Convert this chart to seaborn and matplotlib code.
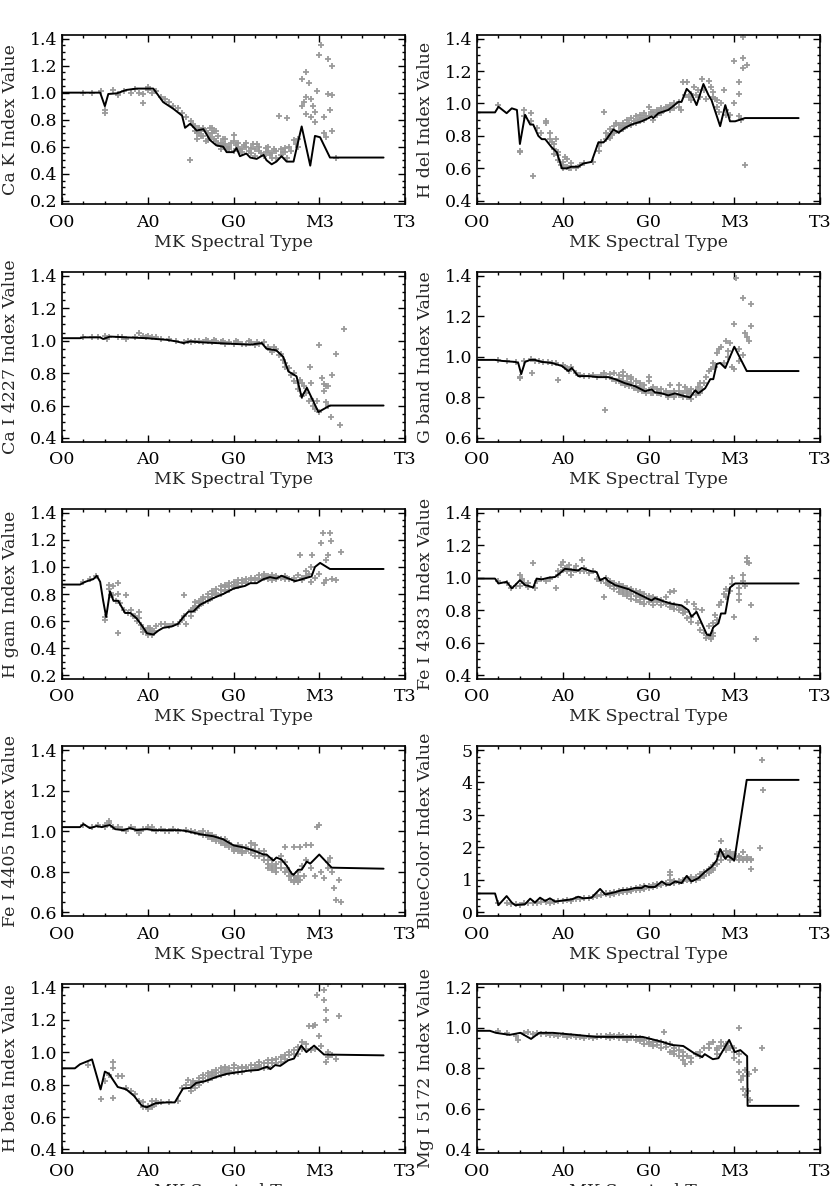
import matplotlib
matplotlib.use("Agg")
import matplotlib.pyplot as plt
from matplotlib.ticker import MultipleLocator, AutoMinorLocator, FormatStrFormatter
import seaborn as sns

# spectral type code on the x axis: 0 = O0, 20 = A0, 40 = G0, 60 = M3, 80 = T3
type_ticks = [0, 20, 40, 60, 80]
type_labels = ["O0", "A0", "G0", "M3", "T3"]

# ---- Ca K ----
cak_yticks = [0.2, 0.4, 0.6, 0.8, 1.0, 1.2, 1.4]
cak_curve = [(0, 1.0), (4.2, 1.0), (8.9, 1.0), (10, 0.9), (10.8, 0.99), (12.8, 0.995), (15, 1.02),
             (17.4, 1.03), (19.8, 1.03), (21.3, 1.03), (23.6, 0.93), (26, 0.88), (28, 0.83), (28.7, 0.74),
             (29.9, 0.77), (31.4, 0.72), (33, 0.73), (34.5, 0.65), (36, 0.61), (37.6, 0.60), (38.4, 0.56),
             (40, 0.56), (40.7, 0.59), (41.5, 0.53), (43, 0.55), (43.9, 0.52), (45.4, 0.51), (47, 0.54),
             (47.7, 0.50), (48.9, 0.47), (50, 0.49), (51.2, 0.53), (52.4, 0.49), (54, 0.49), (55.9, 0.75),
             (57.9, 0.46), (59, 0.68), (60.2, 0.67), (62.5, 0.52), (75, 0.52)]
cak_points = [(5, 1.0), (7, 1.0), (9, 1.01), (10, 0.87), (10, 0.85), (12, 1.02), (13, 0.99), (13, 0.98),
              (14.5, 1.01), (16, 1.0), (17, 1.03), (18, 1.0), (19, 0.99), (19, 0.92), (20, 1.02), (20, 1.04),
              (21, 1.0), (22, 1.01), (23, 0.97), (24, 0.95), (25, 0.93), (26, 0.9), (27, 0.89), (28, 0.85),
              (29, 0.82), (29.9, 0.5), (30, 0.79), (31, 0.75), (31, 0.72), (31.5, 0.7), (32, 0.74), (32, 0.7),
              (32.5, 0.68), (33, 0.74), (33, 0.68), (33.5, 0.72), (34, 0.7), (34, 0.65), (34.5, 0.74),
              (35, 0.74), (35, 0.7), (35.5, 0.66), (36, 0.72), (36, 0.64), (36.5, 0.68), (37, 0.63), (37, 0.58),
              (38, 0.62), (38, 0.66), (39, 0.6), (39, 0.58), (40, 0.64), (40, 0.57), (40, 0.69), (41, 0.6),
              (41, 0.63), (42, 0.58), (42, 0.56), (43, 0.6), (43, 0.63), (44, 0.55), (44, 0.59), (45, 0.58),
              (45, 0.53), (45.5, 0.62), (46, 0.57), (47, 0.53), (47.5, 0.56), (48, 0.6), (48, 0.57), (49, 0.52),
              (49, 0.55), (50, 0.57), (50, 0.52), (50.5, 0.83), (51, 0.58), (51, 0.54), (52, 0.56), (52.5, 0.52),
              (52.5, 0.81), (53, 0.6), (54, 0.65), (54.5, 0.62), (55, 0.66), (56, 0.9), (56, 1.1), (56.5, 0.93),
              (57, 0.97), (57, 0.84), (57.5, 1.07), (57, 1.15), (58, 0.95), (58, 0.82), (58.5, 0.9), (59, 0.86),
              (59, 0.78), (59.5, 1.01), (60, 1.28), (60.5, 1.35), (61, 0.82), (61, 0.7), (61.5, 0.67),
              (62, 1.25), (62, 0.99), (62.5, 0.87), (63, 1.2), (63, 0.98), (63, 0.72), (64, 0.52),
              (30.5, 0.76), (31.5, 0.66), (32.5, 0.72), (33.5, 0.64), (34.5, 0.67), (35.5, 0.72), (36.5, 0.62),
              (37.5, 0.66), (37.5, 0.61), (38.5, 0.59), (39.5, 0.63), (40.5, 0.61), (41.5, 0.57), (42.5, 0.61),
              (43.5, 0.57), (44.5, 0.62), (46, 0.6), (46.5, 0.55), (47.5, 0.59), (48.5, 0.54), (49.5, 0.58),
              (51.5, 0.56), (52, 0.59), (53.5, 0.57), (55, 0.6)]

# ---- H del ----
hdel_yticks = [0.4, 0.6, 0.8, 1.0, 1.2, 1.4]
hdel_curve = [(0, 0.945), (4.2, 0.945), (5, 0.98), (6.9, 0.94), (8.1, 0.97), (9.3, 0.96), (10, 0.75),
              (11.2, 0.93), (12.4, 0.87), (13.1, 0.87), (14.3, 0.80), (15.1, 0.78), (15.9, 0.78), (17.4, 0.73),
              (18.6, 0.70), (19.8, 0.60), (20.9, 0.60), (22, 0.61), (23.6, 0.61), (24.8, 0.63), (26.7, 0.64),
              (28.3, 0.76), (29.5, 0.76), (30.2, 0.78), (31.8, 0.84), (33, 0.82), (34.5, 0.85), (36, 0.87),
              (38.4, 0.89), (40, 0.91), (40.7, 0.92), (41.1, 0.91), (42.3, 0.94), (44.6, 0.96), (47, 1.01),
              (47.7, 1.01), (48.9, 1.09), (50, 1.06), (51.2, 0.99), (52.8, 1.12), (54, 1.05), (54.7, 1.02),
              (56.7, 0.86), (57.9, 0.99), (59, 0.89), (60.2, 0.89), (62.5, 0.91), (75, 0.91)]
hdel_points = [(5, 0.99), (10, 0.71), (10, 0.70), (11, 0.92), (11, 0.96), (12.5, 0.94), (12.5, 0.89),
               (13.1, 0.55), (14, 0.85), (15, 0.82), (16, 0.88), (16, 0.89), (17, 0.82), (17, 0.78), (18, 0.75),
               (18, 0.72), (18, 0.69), (18.5, 0.78), (19, 0.7), (19, 0.65), (19.5, 0.62), (20, 0.6), (20, 0.64),
               (20.5, 0.67), (21, 0.61), (21, 0.66), (22, 0.63), (22, 0.6), (23, 0.6), (24, 0.62), (25, 0.63),
               (27, 0.64), (28.5, 0.71), (28.5, 0.74), (29.5, 0.95), (30, 0.78), (30.5, 0.8), (31, 0.84),
               (31, 0.79), (32, 0.86), (32, 0.82), (32.5, 0.88), (33, 0.87), (33, 0.83), (34, 0.88), (34, 0.84),
               (34.5, 0.86), (35, 0.9), (35, 0.86), (36, 0.91), (36, 0.87), (36.5, 0.89), (37, 0.92),
               (37, 0.88), (38, 0.93), (38, 0.89), (38.5, 0.91), (39, 0.94), (39, 0.9), (40, 0.98), (40, 0.92),
               (41, 0.95), (41, 0.9), (42, 0.96), (42, 0.93), (43, 0.97), (43, 0.94), (44, 0.98), (45, 0.99),
               (45, 0.96), (46, 1.0), (47, 1.01), (47.5, 0.96), (48, 1.13), (49, 1.13), (49.5, 1.04),
               (50, 1.06), (50.5, 1.1), (51, 1.05), (52, 1.04), (52.5, 1.15), (53, 1.08), (54, 1.14),
               (54.5, 1.1), (55, 1.07), (55.5, 1.03), (56, 1.02), (56.5, 0.95), (57, 1.0), (57.5, 1.08),
               (58, 0.96), (58, 0.93), (59, 0.93), (60, 1.0), (60, 1.26), (61, 0.92), (61, 1.13), (61, 1.06),
               (61.5, 0.9), (62, 1.28), (62, 1.22), (62, 1.41), (62.5, 0.62), (63, 1.24),
               (29, 0.76), (30, 0.82), (31.5, 0.81), (33.5, 0.85), (35.5, 0.88), (37.5, 0.9), (39.5, 0.92),
               (40.5, 0.95), (41.5, 0.93), (42.5, 0.95), (43.5, 0.96), (44.5, 0.97), (46, 0.97), (47, 0.98),
               (48.5, 1.05), (50, 1.02), (51.5, 1.08), (53.5, 1.03), (55, 1.04), (56, 0.98), (20, 0.62),
               (21.5, 0.6), (19, 0.68), (17.5, 0.76)]

# ---- Ca I 4227 ----
cai_yticks = [0.4, 0.6, 0.8, 1.0, 1.2, 1.4]
cai_curve = [(0, 1.015), (4.2, 1.015), (5, 1.02), (8.9, 1.02), (9.6, 1.01), (11.2, 1.025), (15.1, 1.02),
             (19.8, 1.015), (22, 1.01), (24.4, 1.005), (26.7, 0.995), (28.3, 0.985), (29.9, 0.995),
             (32.2, 0.99), (36, 0.985), (40, 0.98), (43.9, 0.975), (46.6, 0.985), (47.7, 0.95), (50, 0.94),
             (51.6, 0.90), (52.8, 0.81), (54.7, 0.78), (55.9, 0.65), (57.1, 0.71), (59.8, 0.56), (62.5, 0.60),
             (75, 0.60)]
cai_points = [(5, 1.02), (7, 1.02), (8.5, 1.02), (10, 1.03), (10.5, 1.01), (11, 1.02), (13, 1.02), (14, 1.02),
              (15, 1.01), (17, 1.02), (18, 1.05), (19, 1.03), (19.5, 1.02), (20, 1.03), (21, 1.02), (22, 1.02),
              (23, 1.01), (25, 1.01), (26.5, 1.0), (28.5, 0.99), (29.5, 1.0), (30, 0.99), (31, 0.995),
              (32, 1.0), (33, 0.99), (33.5, 1.005), (34, 1.0), (35, 0.99), (35.5, 1.005), (36, 1.0), (37, 0.99),
              (37.5, 1.0), (38, 0.98), (39, 0.99), (40, 0.98), (40.5, 0.995), (41, 0.99), (42, 0.98),
              (43, 0.98), (43.5, 0.995), (44, 0.99), (45, 0.97), (45.5, 0.99), (46, 0.98), (47, 0.99),
              (48, 0.96), (48.5, 0.94), (49, 0.93), (49.5, 0.96), (50, 0.95), (50.5, 0.91), (51, 0.92),
              (51.5, 0.88), (52, 0.86), (52, 0.84), (53, 0.83), (53.5, 0.79), (54, 0.8), (54, 0.75),
              (55, 0.74), (55, 0.7), (55.5, 0.76), (56, 0.74), (56, 0.66), (56.5, 0.72), (57, 0.68),
              (57.5, 0.63), (57.9, 0.84), (58, 0.74), (58, 0.64), (58.5, 0.6), (59, 0.58), (59.5, 0.63),
              (60, 0.56), (60, 0.97), (60.7, 0.77), (61, 0.73), (61, 0.69), (61.5, 0.72), (61.5, 0.62),
              (62, 0.6), (62, 0.72), (62.7, 0.53), (62.9, 0.79), (63.9, 0.92), (64.9, 0.48), (65.8, 1.07)]

# ---- G band ----
gband_yticks = [0.6, 0.8, 1.0, 1.2, 1.4]
gband_curve = [(0, 0.985), (4.2, 0.985), (5.8, 0.98), (8.9, 0.975), (9.6, 0.97), (10.3, 0.915), (11.2, 0.975),
               (12.4, 0.985), (13.5, 0.985), (15.1, 0.975), (17.4, 0.97), (19.8, 0.955), (21.3, 0.93),
               (22.1, 0.945), (23.6, 0.905), (26, 0.905), (28.3, 0.90), (30.6, 0.90), (32.2, 0.89),
               (34.5, 0.87), (36.9, 0.855), (39.2, 0.83), (40.7, 0.84), (41.5, 0.825), (43.1, 0.82),
               (44.6, 0.81), (46.2, 0.82), (47.7, 0.81), (49.7, 0.80), (50.9, 0.835), (51.6, 0.82),
               (53.2, 0.845), (54.4, 0.89), (55.1, 0.89), (55.9, 0.965), (56.7, 0.97), (57.9, 0.945),
               (60, 1.05), (62.9, 0.93), (75, 0.93)]
gband_points = [(5, 0.985), (7, 0.98), (9, 0.975), (10, 0.9), (10, 0.895), (11, 0.98), (12.5, 0.99),
                (12.8, 0.92), (13.5, 0.98), (14.5, 0.98), (15.5, 0.975), (16.5, 0.975), (17.5, 0.97),
                (18.5, 0.97), (19, 0.885), (20, 0.96), (20.5, 0.95), (21, 0.945), (21.5, 0.93), (22, 0.95),
                (23, 0.92), (24, 0.91), (25, 0.905), (26, 0.905), (27, 0.91), (28, 0.9), (29, 0.91),
                (29.5, 0.92), (29.9, 0.74), (30, 0.9), (31, 0.915), (31.5, 0.89), (32, 0.92), (32.5, 0.88),
                (33, 0.91), (33.5, 0.87), (34, 0.925), (34.5, 0.86), (35, 0.905), (35.5, 0.855), (36, 0.89),
                (36.5, 0.845), (37, 0.88), (37.5, 0.835), (38, 0.87), (38.5, 0.83), (39, 0.86), (39.5, 0.82),
                (40, 0.88), (40, 0.9), (40.5, 0.82), (41, 0.85), (42, 0.84), (42.5, 0.82), (43, 0.84),
                (44, 0.83), (44.5, 0.8), (45, 0.86), (46, 0.81), (46, 0.8), (47, 0.83), (47, 0.86), (48, 0.82),
                (48.5, 0.85), (49, 0.8), (49.5, 0.82), (50, 0.84), (50, 0.79), (51, 0.83), (51.5, 0.85),
                (52, 0.87), (52.5, 0.84), (53, 0.87), (53.5, 0.9), (54, 0.93), (54.5, 0.94), (55, 0.97),
                (55.5, 0.95), (56, 1.02), (56.5, 1.04), (57, 1.05), (57.5, 0.97), (58, 1.08), (58.5, 1.0),
                (58.5, 1.03), (59, 1.07), (59.5, 0.95), (60, 0.94), (60, 1.16), (60.3, 1.39), (61, 0.98),
                (61, 1.04), (62, 1.01), (62.1, 1.29), (62.5, 1.12), (63, 1.1), (63.5, 1.08), (63.9, 1.15),
                (63.9, 1.26),
                (33, 0.89), (34, 0.88), (35, 0.875), (36, 0.87), (37, 0.855), (38, 0.85), (39, 0.84),
                (40, 0.835), (41, 0.82), (42, 0.82), (43, 0.815), (44, 0.82), (45, 0.82), (46, 0.83), (47, 0.81),
                (48, 0.8), (49, 0.83), (50, 0.82), (51, 0.81), (52, 0.82), (34, 0.905), (36, 0.9)]

# ---- H gam ----
hgam_yticks = [0.2, 0.4, 0.6, 0.8, 1.0, 1.2, 1.4]
hgam_curve = [(0, 0.87), (4.2, 0.87), (5.4, 0.89), (7.3, 0.91), (8.1, 0.935), (8.9, 0.89), (9.6, 0.75),
              (10.3, 0.63), (11.2, 0.82), (12, 0.75), (13.1, 0.75), (14.7, 0.66), (15.9, 0.66), (17.4, 0.62),
              (19, 0.55), (19.8, 0.51), (21.3, 0.50), (22.5, 0.53), (23.6, 0.55), (25.6, 0.56), (27.1, 0.58),
              (28.3, 0.63), (29.5, 0.67), (30.6, 0.67), (32.2, 0.72), (33.4, 0.74), (35.3, 0.77),
              (37.6, 0.80), (40, 0.84), (42.7, 0.86), (43.9, 0.88), (45.4, 0.88), (47, 0.91), (48.5, 0.925),
              (50, 0.915), (51.2, 0.935), (53.2, 0.91), (54.4, 0.895), (55.5, 0.905), (57.1, 0.92),
              (58.2, 0.93), (59, 1.0), (60.2, 1.03), (62.5, 0.985), (75, 0.985)]
hgam_points = [(5, 0.89), (6.5, 0.91), (8, 0.93), (10, 0.61), (10, 0.63), (11, 0.84), (11, 0.87), (11.5, 0.79),
               (12, 0.79), (12, 0.86), (12.5, 0.75), (13, 0.51), (13, 0.88), (13, 0.8), (13.5, 0.73),
               (14.5, 0.68), (15, 0.79), (15.5, 0.66), (16, 0.68), (16.5, 0.64), (17, 0.64), (17.5, 0.6),
               (18, 0.67), (18, 0.62), (18.5, 0.57), (19, 0.54), (19.5, 0.52), (20, 0.5), (20, 0.55),
               (20.5, 0.52), (21, 0.5), (21.5, 0.53), (22, 0.56), (23, 0.58), (24, 0.58), (25, 0.56),
               (26, 0.58), (27, 0.58), (28, 0.61), (28.5, 0.79), (28.5, 0.64), (29, 0.58), (30, 0.68),
               (30.5, 0.7), (31, 0.74), (31, 0.68), (32, 0.75), (32, 0.71), (33, 0.78), (33, 0.73), (34, 0.8),
               (34, 0.75), (35, 0.82), (35, 0.77), (36, 0.84), (36, 0.79), (37, 0.86), (37, 0.8), (38, 0.87),
               (38, 0.82), (39, 0.88), (39, 0.83), (40, 0.89), (40, 0.85), (41, 0.9), (41, 0.86), (42, 0.9),
               (43, 0.91), (43, 0.88), (44, 0.92), (45, 0.9), (46, 0.94), (47, 0.95), (47, 0.92), (48, 0.93),
               (49, 0.94), (49, 0.9), (50, 0.93), (51, 0.92), (52, 0.93), (53, 0.91), (54, 0.9), (55, 0.94),
               (55.5, 1.09), (56, 0.9), (57, 0.93), (57, 0.97), (58, 1.0), (58, 0.89), (58.2, 1.09),
               (59, 0.92), (60, 0.95), (60.3, 1.18), (60.8, 1.25), (61, 0.88), (61.5, 1.05), (61.5, 0.9),
               (62.1, 1.09), (62.5, 1.25), (62.75, 1.19), (62.9, 0.91), (64, 0.9), (65, 1.11),
               (30, 0.64), (31, 0.71), (32, 0.73), (33, 0.76), (34, 0.78), (35, 0.8), (36, 0.81), (37, 0.83),
               (38, 0.85), (39, 0.86), (40, 0.87), (41, 0.88), (42, 0.88), (43, 0.89), (44, 0.9), (45, 0.92),
               (46, 0.91), (47, 0.93), (48, 0.91), (50, 0.91), (52, 0.91), (54, 0.92), (56, 0.92), (57.5, 0.95),
               (19, 0.52), (20.5, 0.55), (21, 0.53)]

# ---- Fe I 4383 ----
fe83_yticks = [0.4, 0.6, 0.8, 1.0, 1.2, 1.4]
fe83_curve = [(0, 0.995), (4.2, 0.995), (5, 0.965), (6.9, 0.975), (8.1, 0.935), (8.9, 0.955), (10, 0.985),
              (11.2, 0.955), (12, 0.95), (13.1, 0.94), (13.9, 0.995), (15.1, 0.99), (16.6, 1.0), (18.2, 1.005),
              (19.4, 1.03), (20.5, 1.055), (22.1, 1.05), (23.6, 1.045), (24.4, 1.06), (26.7, 1.04),
              (27.9, 1.035), (28.7, 0.985), (29.9, 1.0), (30.6, 0.98), (32.2, 0.955), (35.3, 0.93),
              (37.6, 0.90), (39.2, 0.88), (40.7, 0.86), (41.5, 0.875), (43.5, 0.855), (45.4, 0.84),
              (47.7, 0.83), (49.3, 0.80), (50, 0.76), (51.2, 0.79), (52.4, 0.72), (53.6, 0.65), (54.4, 0.645),
              (55.1, 0.695), (56.3, 0.72), (56.9, 0.78), (57.9, 0.78), (59, 0.94), (60.2, 0.965), (75, 0.965)]
fe83_points = [(5, 0.98), (7, 0.97), (8, 0.94), (9, 0.95), (10, 1.02), (10, 0.95), (10.5, 0.99), (11, 0.97),
               (12, 0.97), (12, 0.945), (13, 1.09), (13.5, 0.94), (14, 0.98), (15, 0.99), (16, 0.98),
               (17, 0.995), (18.5, 0.94), (19, 1.04), (19, 1.02), (19.5, 1.08), (20, 1.1), (20.5, 1.06),
               (21, 1.04), (21.5, 1.08), (22, 1.02), (22.5, 1.05), (23, 1.07), (24, 1.04), (24.5, 1.11),
               (25, 1.06), (26, 1.03), (27, 1.04), (28, 0.99), (29, 0.98), (29.5, 0.88), (30, 1.0),
               (30.5, 0.96), (31, 0.98), (31, 0.95), (32, 0.97), (32, 0.93), (33, 0.96), (33, 0.91),
               (34, 0.95), (34, 0.9), (35, 0.94), (35, 0.89), (36, 0.93), (36, 0.87), (37, 0.92), (37, 0.86),
               (38, 0.91), (38, 0.85), (39, 0.9), (39, 0.84), (40, 0.89), (40, 0.85), (41, 0.88), (41, 0.83),
               (42, 0.87), (43, 0.86), (43, 0.83), (44, 0.88), (45, 0.84), (45, 0.91), (46, 0.92), (46, 0.83),
               (47, 0.8), (48, 0.81), (48.5, 0.79), (49, 0.85), (49, 0.75), (50, 0.73), (50, 0.76),
               (50.5, 0.84), (51, 0.81), (51.5, 0.72), (52, 0.68), (52.5, 0.8), (53, 0.66), (53.5, 0.63),
               (54, 0.64), (54, 0.7), (55, 0.66), (55, 0.72), (55.5, 0.77), (56, 0.74), (56.5, 0.83),
               (57, 0.85), (57.5, 0.9), (58, 0.93), (58, 0.88), (59, 0.92), (59.5, 0.96), (59.5, 1.0),
               (60, 0.76), (61, 0.94), (61, 0.9), (61, 0.86), (62, 1.02), (62, 0.98), (62.5, 0.95),
               (63, 1.12), (63, 1.1), (63.5, 1.09), (64, 0.83), (65, 0.62),
               (30, 0.97), (31, 0.965), (32, 0.95), (33, 0.935), (34, 0.925), (35, 0.915), (36, 0.9),
               (37, 0.89), (38, 0.88), (39, 0.87), (40, 0.87), (41, 0.86), (42, 0.85), (43, 0.85), (44, 0.84),
               (45, 0.82), (46, 0.81), (47, 0.82), (48, 0.78), (20, 1.05), (21, 1.06), (22, 1.04), (23, 1.05),
               (25, 1.04), (54.5, 0.62), (55, 0.64)]

# ---- Fe I 4405 ----
fe05_yticks = [0.6, 0.8, 1.0, 1.2, 1.4]
fe05_curve = [(0, 1.02), (4.2, 1.02), (5, 1.035), (6.5, 1.015), (8.1, 1.025), (9.3, 1.02), (10, 1.025),
              (11.2, 1.03), (12.4, 1.01), (14.3, 1.005), (15.9, 1.015), (17.4, 1.005), (19.8, 1.01),
              (21.3, 1.005), (24.4, 1.005), (27.5, 1.005), (29.1, 1.0), (32.2, 0.985), (35.3, 0.975),
              (37.6, 0.96), (40, 0.93), (42.3, 0.92), (44.6, 0.905), (47, 0.885), (47.7, 0.885),
              (49.3, 0.855), (50, 0.87), (51.2, 0.86), (52.4, 0.83), (53.6, 0.79), (54, 0.785), (55.1, 0.81),
              (55.9, 0.81), (57.1, 0.85), (57.9, 0.84), (60, 0.885), (62.9, 0.82), (75, 0.815)]
fe05_points = [(5, 1.03), (7, 1.02), (8.5, 1.03), (10, 1.03), (10, 1.02), (11, 1.04), (11, 1.05), (12, 1.02),
               (13, 1.02), (14, 1.01), (15, 1.0), (16, 1.02), (17, 1.01), (18, 1.0), (18, 0.99), (19, 1.01),
               (20, 1.02), (21, 1.01), (21, 1.02), (22, 1.0), (23, 1.01), (24, 1.0), (25, 1.0), (26, 1.01),
               (27, 1.0), (29, 1.005), (30, 1.0), (31, 0.995), (32, 0.99), (33, 0.98), (33, 1.0), (34, 0.97),
               (34, 0.99), (35, 0.96), (35, 0.98), (36, 0.95), (36, 0.97), (37, 0.94), (37, 0.96), (38, 0.93),
               (38, 0.96), (39, 0.92), (39, 0.94), (40, 0.9), (40, 0.92), (41, 0.91), (41, 0.93), (42, 0.89),
               (42, 0.92), (43, 0.9), (44, 0.89), (44, 0.94), (45, 0.88), (45, 0.93), (46, 0.88), (47, 0.86),
               (47, 0.9), (48, 0.82), (48, 0.84), (49, 0.86), (49, 0.83), (50, 0.82), (50, 0.84), (51, 0.85),
               (51, 0.88), (52, 0.8), (52, 0.92), (52.5, 0.82), (53, 0.78), (53.5, 0.76), (54, 0.75),
               (54, 0.78), (54, 0.92), (54.5, 0.77), (55, 0.8), (55, 0.75), (55.5, 0.76), (55.5, 0.92),
               (56, 0.83), (56.5, 0.78), (57, 0.93), (57, 0.86), (58, 0.93), (58, 0.82), (59, 0.78),
               (59.5, 1.02), (60, 1.03), (60.5, 0.8), (61, 0.77), (62, 0.85), (62, 0.82), (62.5, 0.87),
               (63, 0.8), (63.5, 0.72), (64, 0.66), (64.5, 0.76), (65, 0.65),
               (35, 0.97), (36, 0.96), (37, 0.95), (38, 0.94), (39, 0.93), (40, 0.91), (41, 0.9), (42, 0.9),
               (43, 0.92), (44, 0.91), (45, 0.9), (46, 0.9), (47, 0.88), (48, 0.86), (49, 0.81), (50, 0.8),
               (51, 0.82), (52, 0.85), (53, 0.8), (54, 0.76), (55, 0.78), (53.5, 0.79)]

# ---- BlueColor ----
blue_yticks = [0, 1, 2, 3, 4, 5]
blue_curve = [(0, 0.58), (4.2, 0.58), (5, 0.22), (6.9, 0.5), (8.1, 0.3), (8.9, 0.22), (11.2, 0.25),
              (12.4, 0.42), (13.5, 0.3), (14.7, 0.45), (15.9, 0.35), (17, 0.43), (18.2, 0.33), (19.8, 0.36),
              (22.1, 0.4), (23.6, 0.48), (24.8, 0.43), (26.7, 0.45), (28.7, 0.72), (29.9, 0.55), (32.2, 0.62),
              (33.7, 0.68), (35.3, 0.7), (36.9, 0.75), (38.4, 0.75), (39.2, 0.82), (40, 0.78), (41.5, 0.78),
              (43.1, 0.95), (44.2, 0.85), (45, 0.85), (46.2, 0.95), (47.7, 0.9), (48.9, 1.12), (50, 0.95),
              (51.6, 1.05), (53.2, 1.25), (54.7, 1.4), (55.9, 1.6), (56.7, 1.95), (57.9, 1.65), (58.5, 1.75),
              (60, 1.6), (62.9, 4.08), (75, 4.08)]
blue_points = [(5, 0.3), (7, 0.3), (8, 0.27), (9, 0.25), (10, 0.24), (11, 0.28), (12, 0.3), (13, 0.28),
               (14, 0.3), (15, 0.32), (16, 0.33), (17, 0.3), (18, 0.32), (19, 0.35), (20, 0.34), (21, 0.37),
               (22, 0.36), (23, 0.4), (24, 0.42), (25, 0.45), (26, 0.44), (27, 0.47), (28, 0.5), (29, 0.52),
               (30, 0.55), (30, 0.6), (31, 0.58), (31, 0.52), (32, 0.62), (32, 0.56), (33, 0.66), (33, 0.6),
               (34, 0.68), (34, 0.62), (35, 0.7), (35, 0.64), (36, 0.72), (36, 0.66), (37, 0.75), (37, 0.68),
               (38, 0.78), (38, 0.7), (39, 0.8), (39, 0.72), (40, 0.82), (40, 0.75), (41, 0.84), (41, 0.77),
               (42, 0.86), (42, 0.8), (43, 0.88), (44, 0.9), (45, 1.0), (45, 1.25), (45, 1.15), (46, 0.95),
               (47, 0.92), (48, 1.0), (49, 0.98), (49, 1.05), (50, 1.08), (50, 0.97), (51, 1.1), (51, 1.0),
               (52, 1.18), (52, 1.06), (53, 1.25), (53, 1.12), (54, 1.32), (54, 1.2), (55, 1.45), (55, 1.3),
               (56, 1.5), (56, 1.8), (56.9, 2.2), (57, 1.85), (57, 1.6), (58, 1.9), (58, 1.7), (59, 1.85),
               (59, 1.6), (60, 1.8), (60, 1.7), (61, 1.75), (61, 1.6), (62, 1.65), (62, 1.85), (63, 1.7),
               (63, 1.6), (63.9, 1.34), (64, 1.65), (66, 1.98), (66.4, 4.7), (66.8, 3.76),
               (30, 0.58), (31, 0.6), (32, 0.6), (33, 0.63), (34, 0.65), (35, 0.67), (36, 0.69), (37, 0.72),
               (38, 0.74), (39, 0.76), (40, 0.8), (41, 0.8), (42, 0.84), (43, 0.85), (44, 0.86), (45, 0.9),
               (46, 0.9), (47, 0.95), (48, 0.95), (49, 1.0), (50, 1.02), (51, 1.05), (52, 1.1), (53, 1.15),
               (54, 1.25), (55, 1.35), (57, 1.75), (58, 1.8), (59, 1.75), (60, 1.65), (61, 1.7), (62, 1.6),
               (63, 1.65), (64, 1.6)]

# ---- H beta ----
hbeta_yticks = [0.4, 0.6, 0.8, 1.0, 1.2, 1.4]
hbeta_curve = [(0, 0.90), (3, 0.90), (4.2, 0.925), (7, 0.955), (9, 0.77), (10, 0.88), (11, 0.865),
               (13, 0.785), (15, 0.77), (16.8, 0.73), (18.6, 0.67), (19.8, 0.66), (21.8, 0.685), (24.4, 0.69),
               (26.3, 0.69), (28.2, 0.775), (30, 0.78), (31.3, 0.81), (33.3, 0.82), (35.8, 0.845),
               (38.3, 0.865), (40.8, 0.875), (43.3, 0.885), (45.8, 0.89), (47.8, 0.91), (48.6, 0.895),
               (49.7, 0.92), (50.9, 0.915), (52.8, 0.95), (54.1, 0.96), (55.8, 1.04), (57, 1.0), (58.8, 1.04),
               (61.1, 0.985), (75, 0.98)]
hbeta_points = [(6, 0.92), (9, 0.71), (10, 0.82), (11, 0.86), (12, 0.72), (12, 0.94), (12, 0.9), (13, 0.85),
                (14, 0.85), (15, 0.78), (16, 0.76), (17, 0.74), (18, 0.7), (19, 0.66), (19, 0.69), (20, 0.65),
                (21, 0.67), (21, 0.7), (22, 0.68), (23, 0.69), (25, 0.69), (27, 0.7), (28, 0.78), (29, 0.8),
                (29.5, 0.83), (30, 0.76), (30.5, 0.82), (31, 0.78), (32, 0.84), (32, 0.8), (33, 0.86),
                (33, 0.82), (34, 0.87), (34, 0.83), (35, 0.88), (35, 0.84), (36, 0.89), (36, 0.85), (37, 0.9),
                (37, 0.86), (38, 0.91), (38, 0.87), (39, 0.9), (39, 0.87), (40, 0.92), (40, 0.88), (41, 0.9),
                (42, 0.91), (42, 0.88), (43, 0.9), (44, 0.92), (45, 0.9), (46, 0.94), (46, 0.91), (47, 0.93),
                (48, 0.95), (48, 0.91), (49, 0.93), (50, 0.96), (51, 0.94), (52, 0.98), (53, 1.0), (54, 1.01),
                (55, 1.03), (55, 0.99), (56, 1.06), (57, 1.05), (57.5, 1.16), (58, 1.01), (58.5, 1.16),
                (59, 1.17), (59, 1.02), (59.5, 1.35), (60, 1.1), (60.5, 1.04), (61, 1.32), (61, 1.38),
                (61.5, 1.2), (61.5, 1.26), (61.5, 0.94), (62, 1.0), (62, 0.97), (62, 1.42), (63, 0.98),
                (64, 0.96), (64.5, 1.22),
                (30, 0.8), (31, 0.81), (32, 0.82), (33, 0.84), (34, 0.85), (35, 0.86), (36, 0.87), (37, 0.88),
                (38, 0.89), (39, 0.885), (40, 0.9), (41, 0.88), (42, 0.9), (43, 0.91), (44, 0.89), (45, 0.92),
                (46, 0.92), (47, 0.9), (48, 0.93), (49, 0.95), (50, 0.93), (51, 0.97), (52, 0.96), (53, 0.98),
                (54, 0.99), (56, 1.02), (57, 1.02), (20, 0.67), (21, 0.66), (22, 0.7)]

# ---- Mg I 5172 ----
mg_yticks = [0.4, 0.6, 0.8, 1.0, 1.2]
mg_curve = [(0, 0.985), (3, 0.985), (4.4, 0.975), (7.6, 0.965), (10.1, 0.975), (12.6, 0.945), (14.5, 0.975),
            (17.7, 0.975), (23, 0.965), (27.8, 0.955), (34.1, 0.955), (38.6, 0.955), (40.5, 0.945),
            (43.3, 0.93), (45.5, 0.915), (48.1, 0.91), (50.6, 0.875), (52.5, 0.855), (53.1, 0.87),
            (55, 0.845), (56.3, 0.85), (58.8, 0.94), (60.1, 0.88), (61.4, 0.89), (63, 0.86), (63.1, 0.615),
            (75, 0.615)]
mg_points = [(5, 0.985), (7, 0.975), (9, 0.96), (9.5, 0.94), (11, 0.975), (12, 0.98), (13, 0.97), (14, 0.975),
             (15, 0.97), (16, 0.97), (17, 0.965), (18, 0.965), (19, 0.96), (20, 0.965), (21, 0.955), (22, 0.96),
             (23, 0.955), (24, 0.955), (25, 0.95), (26, 0.955), (27, 0.95), (28, 0.955), (29, 0.96),
             (30, 0.955), (31, 0.965), (31, 0.95), (32, 0.96), (33, 0.965), (33, 0.95), (34, 0.96),
             (35, 0.955), (35, 0.94), (36, 0.95), (37, 0.94), (37, 0.955), (38, 0.935), (38, 0.95), (39, 0.92),
             (39, 0.94), (40, 0.92), (40, 0.945), (41, 0.91), (41, 0.93), (42, 0.915), (43, 0.9), (43, 0.93),
             (43.5, 0.98), (44, 0.905), (45, 0.88), (45, 0.92), (46, 0.87), (46, 0.9), (47, 0.86), (47, 0.89),
             (48, 0.84), (48, 0.88), (48.5, 0.82), (49, 0.86), (50, 0.85), (51, 0.87), (52, 0.88), (53, 0.9),
             (54, 0.92), (55, 0.93), (56, 0.9), (56, 0.87), (57, 0.93), (57, 0.91), (58, 0.92), (58, 0.89),
             (59, 0.9), (60, 0.88), (60, 0.85), (61, 0.83), (61, 0.78), (61, 0.87), (61.2, 1.0), (61.6, 0.74),
             (62, 0.7), (62, 0.76), (62.5, 0.67), (62.5, 0.79), (63.1, 0.69), (63.4, 0.77), (63.7, 0.645),
             (64.9, 0.79), (66.5, 0.9),
             (30, 0.96), (32, 0.955), (34, 0.95), (36, 0.96), (38, 0.945), (40, 0.93), (42, 0.93), (44, 0.92),
             (46, 0.885), (48, 0.86), (50, 0.83), (52, 0.86), (54, 0.9), (56, 0.89), (58, 0.91), (60, 0.9),
             (26, 0.96), (28, 0.96)]

panels = [
    ("Ca K Index Value", cak_yticks, cak_curve, cak_points),
    ("H del Index Value", hdel_yticks, hdel_curve, hdel_points),
    ("Ca I 4227 Index Value", cai_yticks, cai_curve, cai_points),
    ("G band Index Value", gband_yticks, gband_curve, gband_points),
    ("H gam Index Value", hgam_yticks, hgam_curve, hgam_points),
    ("Fe I 4383 Index Value", fe83_yticks, fe83_curve, fe83_points),
    ("Fe I 4405 Index Value", fe05_yticks, fe05_curve, fe05_points),
    ("BlueColor Index Value", blue_yticks, blue_curve, blue_points),
    ("H beta Index Value", hbeta_yticks, hbeta_curve, hbeta_points),
    ("Mg I 5172 Index Value", mg_yticks, mg_curve, mg_points),
]

sns.set_style("ticks")
plt.rcParams["font.family"] = ["DejaVu Serif"]
plt.rcParams["font.size"] = 12.5

fig, axes = plt.subplots(5, 2, figsize=(8.3, 11.86), dpi=100)
fig.subplots_adjust(left=0.0747, right=0.988, top=0.9705, bottom=0.0278, wspace=0.21, hspace=0.40)

for ax, (ylabel, yticks, curve, points) in zip(axes.flat, panels):
    px, py = zip(*points)
    cx, cy = zip(*curve)
    sns.scatterplot(x=list(px), y=list(py), ax=ax, marker="+", color="#9a9a9a", s=18, linewidth=1.3, zorder=1)
    sns.lineplot(x=list(cx), y=list(cy), ax=ax, color="black", lw=1.4, sort=False, estimator=None, zorder=3)

    ax.set_xlim(0, 80)
    ax.set_xticks(type_ticks)
    ax.set_xticklabels(type_labels)
    ax.xaxis.set_minor_locator(MultipleLocator(5))

    span = yticks[-1] - yticks[0]
    ax.set_ylim(yticks[0] - 0.022 * span, yticks[-1] + 0.022 * span)
    ax.set_yticks(yticks)
    if ylabel.startswith("BlueColor"):
        ax.yaxis.set_major_formatter(FormatStrFormatter("%d"))
        ax.yaxis.set_minor_locator(AutoMinorLocator(5))
    else:
        ax.yaxis.set_major_formatter(FormatStrFormatter("%.1f"))
        ax.yaxis.set_minor_locator(AutoMinorLocator(4))

    ax.tick_params(which="both", direction="in", top=True, right=True, width=1, colors="black")
    ax.tick_params(which="major", length=5)
    ax.tick_params(which="minor", length=2.5)
    ax.tick_params(axis="x", which="major", pad=7)
    ax.tick_params(axis="y", which="major", pad=3)
    for sp in ax.spines.values():
        sp.set_linewidth(1.2)
        sp.set_color("black")

    ax.set_xlabel("MK Spectral Type")
    ax.set_ylabel(ylabel)
    ax.xaxis.set_label_coords(0.5, -0.175)
    ax.yaxis.set_label_coords(-0.125, 0.5)

fig.savefig("out.png", dpi=100, facecolor="white")
